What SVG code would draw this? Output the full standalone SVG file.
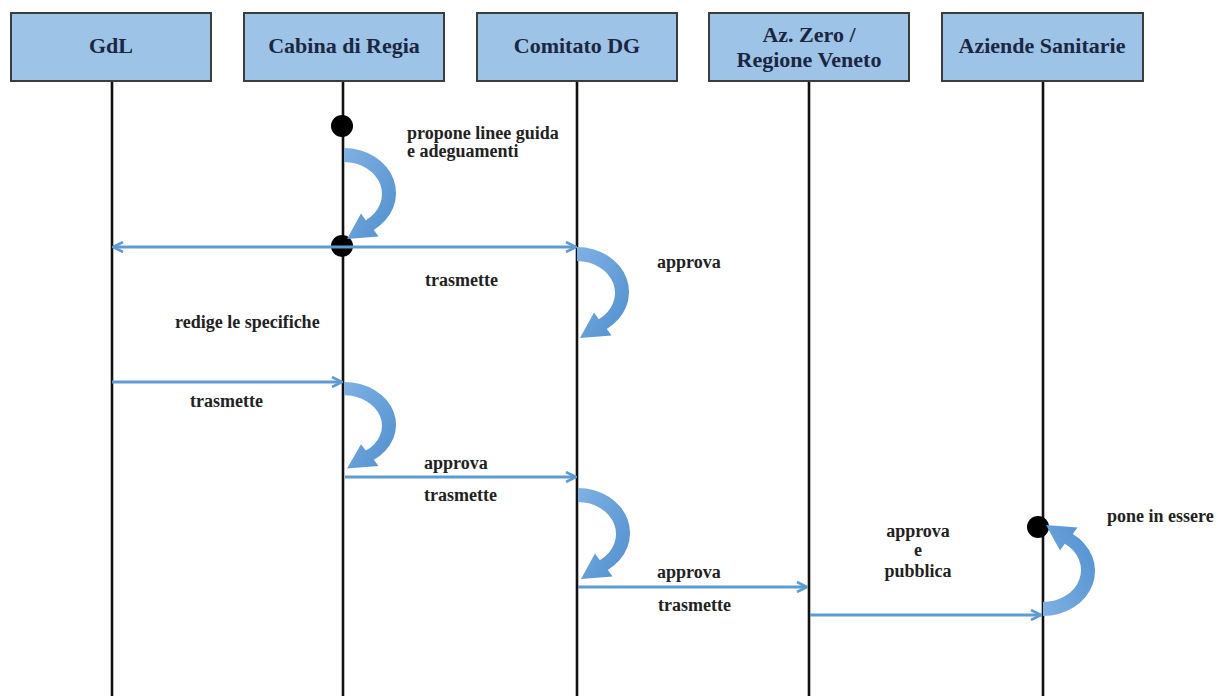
<svg xmlns="http://www.w3.org/2000/svg" width="1218" height="696" viewBox="0 0 1218 696">
  <style>
    .box { fill: #9dc3e6; stroke: #3c3c3c; stroke-width: 2; }
    .head { font-family: "Liberation Serif", "Times New Roman", serif; font-weight: bold; font-size: 22px; fill: #1b2742; text-anchor: middle; }
    .life { stroke: #111; stroke-width: 2.6; }
    .msg { stroke: #5e9bd3; stroke-width: 3; fill: none; }
    .lbl { font-family: "Liberation Serif", "Times New Roman", serif; font-weight: bold; font-size: 18px; fill: #222; }
    .mid { text-anchor: middle; }
    .dot { fill: #000; }
    .turn { fill: url(#turnFill); }
  </style>
  <defs>
    <marker id="open" viewBox="0 0 12 12" refX="11" refY="6" markerWidth="12" markerHeight="12" markerUnits="userSpaceOnUse" orient="auto-start-reverse">
      <path d="M1,1 L11,6 L1,11" fill="none" stroke="#5e9bd3" stroke-width="2.6" stroke-linejoin="miter"/>
    </marker>
    <linearGradient id="turnFill" x1="0" y1="0" x2="1" y2="1">
      <stop offset="0" stop-color="#7fb1e3"/>
      <stop offset="1" stop-color="#4f8fcf"/>
    </linearGradient>
    <!-- self-call arrow: band bulging right, from top (0,0) down to a tip near (4,91) -->
    <path id="selfArrow" class="turn" d="M0,0 A52,45 0 0 1 29.8,81.9 L34.5,88.5 L3,91 L17,65.5 L21.8,72.2 A38,32 0 0 0 0,14 Z"/>
  </defs>

  <!-- lifelines -->
  <g id="lifelines">
    <line class="life" x1="112" y1="81" x2="112" y2="696"/>
    <line class="life" x1="343" y1="81" x2="343" y2="696"/>
    <line class="life" x1="577" y1="81" x2="577" y2="696"/>
    <line class="life" x1="809" y1="81" x2="809" y2="696"/>
    <line class="life" x1="1043" y1="81" x2="1043" y2="696"/>
  </g>

  <!-- participants -->
  <g id="gdl">
    <rect class="box" x="11" y="13" width="200" height="68"/>
    <text class="head" x="111" y="53">GdL</text>
  </g>
  <g id="cabina">
    <rect class="box" x="244" y="13" width="200" height="68"/>
    <text class="head" x="344" y="53">Cabina di Regia</text>
  </g>
  <g id="comitato">
    <rect class="box" x="477" y="13" width="200" height="68"/>
    <text class="head" x="577" y="53">Comitato DG</text>
  </g>
  <g id="azzero">
    <rect class="box" x="709" y="13" width="200" height="68"/>
    <text class="head" x="809" y="42">Az. Zero /</text>
    <text class="head" x="809" y="67">Regione Veneto</text>
  </g>
  <g id="aziende">
    <rect class="box" x="942" y="13" width="201" height="68"/>
    <text class="head" x="1042" y="53">Aziende Sanitarie</text>
  </g>

  <!-- activation points -->
  <g id="points">
    <circle class="dot" cx="342" cy="126" r="11"/>
    <circle class="dot" cx="342" cy="246" r="11"/>
    <circle class="dot" cx="1038" cy="527" r="11"/>
  </g>

  <!-- messages -->
  <g id="connectors">
    <line class="msg" x1="342" y1="247" x2="113" y2="247" marker-end="url(#open)"/>
    <line class="msg" x1="342" y1="247" x2="576" y2="247" marker-end="url(#open)"/>
    <line class="msg" x1="112" y1="382" x2="342" y2="382" marker-end="url(#open)"/>
    <line class="msg" x1="345" y1="477" x2="576" y2="477" marker-end="url(#open)"/>
    <line class="msg" x1="578" y1="587" x2="807" y2="587" marker-end="url(#open)"/>
    <line class="msg" x1="810" y1="615" x2="1041" y2="615" marker-end="url(#open)"/>

    <use href="#selfArrow" transform="translate(344,148)"/>
    <use href="#selfArrow" transform="translate(577,247)"/>
    <use href="#selfArrow" transform="translate(344,382) scale(1,0.95)"/>
    <use href="#selfArrow" transform="translate(578,488)"/>
    <use href="#selfArrow" transform="translate(1043,616) scale(1,-1)"/>
  </g>

  <!-- message labels -->
  <g id="labels">
    <text class="lbl" x="407" y="139">propone linee guida</text>
    <text class="lbl" x="407" y="157">e adeguamenti</text>
    <text class="lbl" x="425" y="286">trasmette</text>
    <text class="lbl" x="657" y="268">approva</text>
    <text class="lbl" x="175" y="328">redige le specifiche</text>
    <text class="lbl" x="190" y="407">trasmette</text>
    <text class="lbl" x="424" y="469">approva</text>
    <text class="lbl" x="424" y="501">trasmette</text>
    <text class="lbl" x="657" y="578">approva</text>
    <text class="lbl" x="658" y="611">trasmette</text>
    <text class="lbl mid" x="918" y="537">approva</text>
    <text class="lbl mid" x="918" y="556">e</text>
    <text class="lbl mid" x="918" y="577">pubblica</text>
    <text class="lbl" x="1107" y="522">pone in essere</text>
  </g>
</svg>
